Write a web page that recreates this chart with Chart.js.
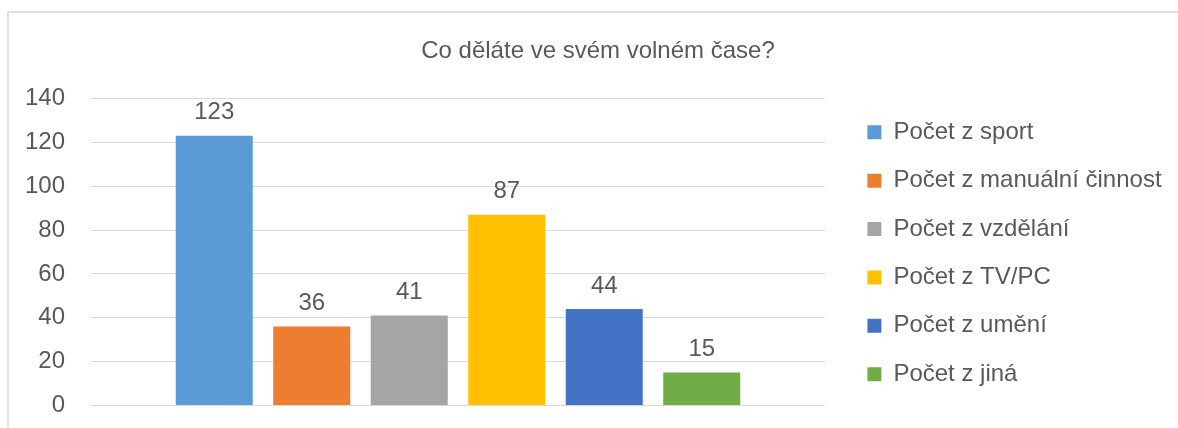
<!DOCTYPE html>
<html>
<head>
<meta charset="utf-8">
<script src="https://cdn.jsdelivr.net/npm/chart.js@4.4.1/dist/chart.umd.min.js"></script>
<style>
  html, body { margin: 0; padding: 0; background: #ffffff; }
  #wrap { position: relative; width: 1178px; height: 428px; overflow: hidden; }
  #frame { position: absolute; left: 7px; top: 11px; width: 1300px; height: 500px;
           border-left: 2px solid #e2e2e2; border-top: 2px solid #e2e2e2; pointer-events: none; }
  canvas { position: absolute; left: 0; top: 0; }
</style>
</head>
<body>
<div id="wrap">
  <canvas id="c" width="1178" height="428"></canvas>
  <div id="frame"></div>
</div>
<script>
const titleText = "Co děláte ve svém volném čase?";
const seriesNames = ["Počet z sport", "Počet z manuální činnost", "Počet z vzdělání", "Počet z TV/PC", "Počet z umění", "Počet z jiná"];
const seriesValues = [123, 36, 41, 87, 44, 15];
const seriesColors = ["#5b9bd5", "#ed7d31", "#a5a5a5", "#ffc000", "#4472c4", "#70ad47"];
const categories = [""];
const yMin = 0, yMax = 140, yStep = 20;

const FONT = "'Liberation Sans', Arial, sans-serif";
const TEXT = "#595959";

const valueLabels = {
  id: 'valueLabels',
  afterDatasetsDraw(chart) {
    const ctx = chart.ctx;
    ctx.save();
    ctx.font = "24px " + FONT;
    ctx.fillStyle = TEXT;
    ctx.textAlign = 'center';
    ctx.textBaseline = 'middle';
    chart.data.datasets.forEach((ds, i) => {
      const meta = chart.getDatasetMeta(i);
      meta.data.forEach((bar, j) => {
        ctx.fillText(String(ds.data[j]), bar.x, bar.y - 23);
      });
    });
    ctx.restore();
  }
};

const legendShift = {
  id: 'legendShift',
  afterLayout(chart) {
    const lg = chart.legend;
    if (lg) {
      lg.left += 18; lg.right += 18;
      lg.top += 44.5; lg.bottom += 44.5;
    }
  }
};

const legendWidthFix = {
  id: 'legendWidthFix',
  beforeLayout(chart) {
    const lg = chart.legend;
    if (lg && !lg._wfix) {
      const orig = lg.fit;
      lg.fit = function () { orig.call(this); this.width = 353; };
      lg._wfix = true;
    }
  }
};

new Chart(document.getElementById('c'), {
  type: 'bar',
  data: {
    labels: categories,
    datasets: seriesNames.map((name, i) => ({
      label: name,
      data: [seriesValues[i]],
      backgroundColor: seriesColors[i],
      borderWidth: 0
    }))
  },
  options: {
    responsive: false,
    animation: false,
    devicePixelRatio: 1,
    categoryPercentage: 0.797,
    barPercentage: 0.79,
    layout: { padding: { top: 12, left: 18, right: 0, bottom: 22.5 } },
    plugins: {
      tooltip: { enabled: false },
      title: {
        display: true,
        text: titleText,
        color: TEXT,
        font: { family: FONT, size: 24, weight: 'normal', lineHeight: 1.2 },
        padding: { top: 24.6, bottom: 33.1 }
      },
      legend: {
        display: true,
        position: 'right',
        align: 'center',
        labels: {
          color: TEXT,
          font: { family: FONT, size: 24 },
          boxWidth: 14,
          boxHeight: 14,
          padding: 24.4
        }
      }
    },
    scales: {
      x: {
        display: false,
        grid: { display: false }
      },
      y: {
        min: yMin,
        max: yMax,
        afterFit(scale) {
          scale.width = 73;
          scale.paddingTop = 0;
          scale.paddingBottom = 0;
        },
        ticks: {
          stepSize: yStep,
          color: TEXT,
          font: { family: FONT, size: 24 },
          padding: 26
        },
        grid: { color: '#d9d9d9', lineWidth: 1, drawTicks: false },
        border: { display: false }
      }
    }
  },
  plugins: [valueLabels, legendWidthFix, legendShift]
});
</script>
</body>
</html>
